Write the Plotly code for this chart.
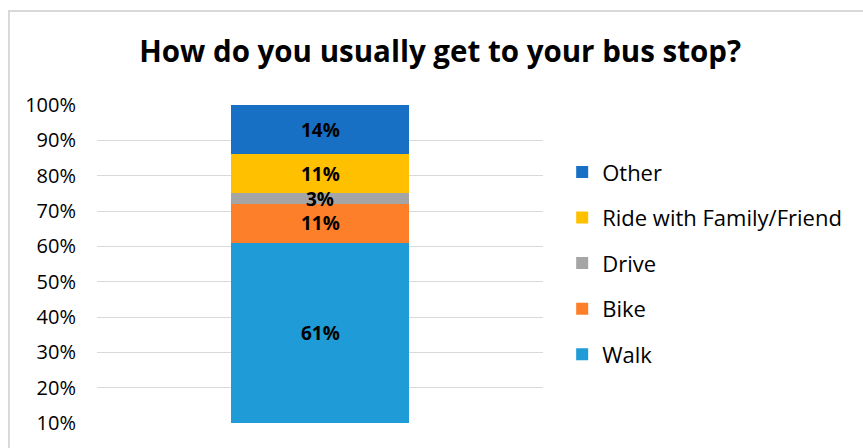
import plotly.graph_objects as go

categories = ["All"]
series_names = ["Walk", "Bike", "Drive", "Ride with Family/Friend", "Other"]
series_values = [0.61, 0.11, 0.03, 0.11, 0.14]
series_colors = ["#1f9bd7", "#fd7f2a", "#a5a5a5", "#ffc000", "#1770c4"]
tick_values = [0.1, 0.2, 0.3, 0.4, 0.5, 0.6, 0.7, 0.8, 0.9, 1.0]
tick_labels = ["10%", "20%", "30%", "40%", "50%", "60%", "70%", "80%", "90%", "100%"]
y_min, y_max = 0.1, 1.0

FONT = "Open Sans"
fig = go.Figure()
annotations = []
cum = 0.0
n = len(series_names)
for i, (name, val, col) in enumerate(zip(series_names, series_values, series_colors)):
    fig.add_trace(go.Bar(
        x=categories, y=[val], name=name, marker=dict(color=col, line=dict(width=0)),
        width=0.4, legendgroup=name, legendrank=n - i,
    ))
    lo = max(cum, y_min)
    hi = min(cum + val, y_max)
    annotations.append(dict(
        x=categories[0], y=(lo + hi) / 2, xref="x", yref="y",
        text="<b>%d%%</b>" % round(val * 100), showarrow=False,
        font=dict(family=FONT, size=19, color="#000000"),
    ))
    cum += val

fig.update_layout(
    barmode="stack",
    width=863, height=448,
    margin=dict(l=97, r=320, t=105, b=25),
    paper_bgcolor="white", plot_bgcolor="white",
    title=dict(text="<b>How do you usually get to your bus stop?</b>",
               x=0.51, xanchor="center", y=0.885, yanchor="middle",
               font=dict(family=FONT, size=29.5, color="#000000")),
    font=dict(family=FONT, size=20, color="#000000"),
    xaxis=dict(showticklabels=False, showgrid=False, zeroline=False, showline=False,
               range=[-0.5, 0.5]),
    yaxis=dict(range=[y_min, y_max], tickvals=tick_values, ticktext=tick_labels,
               showgrid=True, gridcolor="#d9d9d9", gridwidth=1, zeroline=False,
               showline=False, ticks="", ticklabelstandoff=20,
               tickfont=dict(family=FONT, size=20, color="#000000")),
    legend=dict(x=1.043, y=0.855, xanchor="left", yanchor="top",
                traceorder="grouped", tracegroupgap=14,
                font=dict(family=FONT, size=22, color="#000000"),
                itemwidth=30),
    annotations=annotations,
    showlegend=True,
    shapes=[dict(type="rect", xref="paper", yref="paper",
                 x0=(9 - 97) / 446, x1=(870 - 97) / 446,
                 y0=(423 - 455) / 318, y1=(423 - 11) / 318,
                 line=dict(color="#d9d9d9", width=2), fillcolor="rgba(0,0,0,0)",
                 layer="below")],
)

fig.write_html("out.html")
